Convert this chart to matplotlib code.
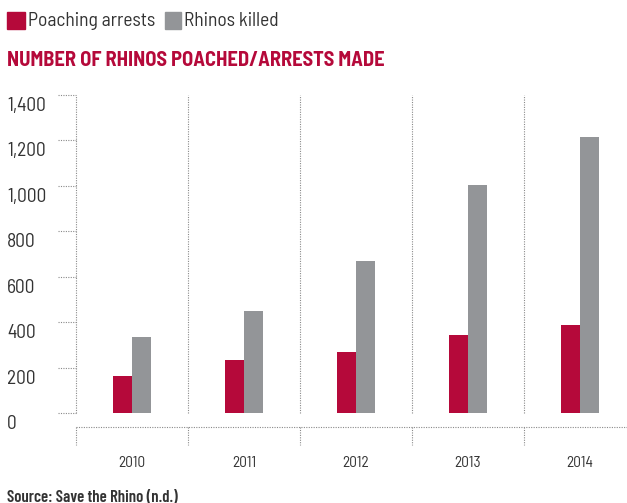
import matplotlib
matplotlib.use("Agg")
import matplotlib.pyplot as plt
import matplotlib.transforms as mtransforms

years = ["2010", "2011", "2012", "2013", "2014"]
arrests = [165, 232, 267, 343, 386]
killed = [333, 448, 668, 1004, 1215]
yticks = [0, 200, 400, 600, 800, 1000, 1200, 1400]
ylabels = ["0", "200", "400", "600", "800", "1,000", "1,200", "1,400"]

RED = "#b5093a"
GRAY = "#939598"
TEXT = "#333333"
DOT = "#8a8a8a"

plt.rcParams["font.family"] = ["Barlow Semi Condensed", "DejaVu Sans"]

W, H = 627, 503
fig = plt.figure(figsize=(W / 100, H / 100), dpi=100)
ax = fig.add_axes([76 / W, (H - 413) / H, 551 / W, 318 / H])

ax.set_xlim(-0.5, -0.5 + 551 / 112)
ax.set_ylim(0, 1400)
for s in ax.spines.values():
    s.set_visible(False)
ax.set_xticks([])
ax.set_yticks([])

bw = 0.17
xs = list(range(len(years)))
ax.bar([x - bw / 2 for x in xs], arrests, width=bw, color=RED, linewidth=0)
ax.bar([x + bw / 2 for x in xs], killed, width=bw, color=GRAY, linewidth=0)

# dotted separators between categories
dot = dict(color=DOT, linestyle=(0, (1, 1.2)), linewidth=0.8, clip_on=False)
for i in range(len(years)):
    ax.axvline(i - 0.5, ymin=0, ymax=1, **dot)

# y tick marks and labels (labels sit a bit below their tick)
ytr = ax.get_yaxis_transform()
lab_tr = mtransforms.blended_transform_factory(fig.transFigure, ax.transData) + \
    mtransforms.ScaledTranslation(0, -11 / 100, fig.dpi_scale_trans)
for v, l in zip(yticks, ylabels):
    ax.plot([-18 / 551, 0], [v, v], transform=ytr, **dot)
    fig.text(7 / W, v, l, transform=lab_tr, ha="left", va="center",
             fontsize=14, color=TEXT)

# lower category axis
xtr = ax.get_xaxis_transform()
ax.plot([-0.5, 5], [-14 / 318, -14 / 318], transform=xtr, **dot)
for i in range(len(years)):
    ax.plot([i - 0.5, i - 0.5], [-14 / 318, -32 / 318], transform=xtr, **dot)
    ax.text(i, -50 / 318, years[i], transform=xtr, ha="center", va="center",
            fontsize=11, color=TEXT)

# legend
fig.patches.append(plt.Rectangle((7 / W, 1 - 29 / H), 18 / W, 17 / H,
                                 transform=fig.transFigure, color=RED))
fig.text(28 / W, 1 - 21 / H, "Poaching arrests", ha="left", va="center",
         fontsize=14, color=TEXT)
fig.patches.append(plt.Rectangle((165 / W, 1 - 29 / H), 16 / W, 17 / H,
                                 transform=fig.transFigure, color=GRAY))
fig.text(184 / W, 1 - 21 / H, "Rhinos killed", ha="left", va="center",
         fontsize=14, color=TEXT)

fig.text(7 / W, 1 - 60 / H, "NUMBER OF RHINOS POACHED/ARRESTS MADE",
         ha="left", va="center", fontsize=14.7, fontweight="bold", color=RED)

fig.text(7 / W, 1 - 490 / H, "Source: Save the Rhino (n.d.)", ha="left",
         va="top", fontsize=12, fontweight="semibold", color=TEXT,
         family=["Barlow Condensed", "DejaVu Sans"])

fig.savefig("out.png", dpi=100)
